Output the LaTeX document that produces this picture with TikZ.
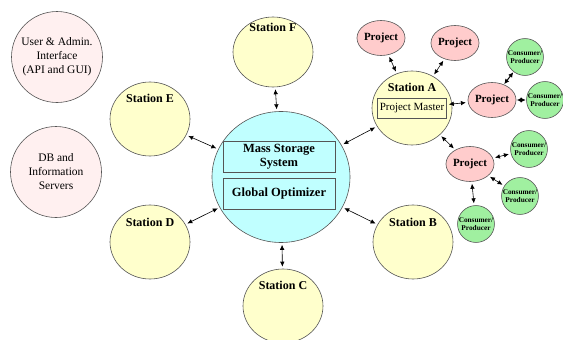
\documentclass[tikz,border=0pt]{standalone}
\usepackage{fontspec}
\setmainfont{Liberation Serif}
\usetikzlibrary{arrows.meta,shapes.geometric,calc}
\definecolor{stfill}{HTML}{FFFFCC}
\definecolor{bigfill}{HTML}{C0FFFF}
\definecolor{prfill}{HTML}{FFCCCC}
\definecolor{cpfill}{HTML}{A0F0A0}
\definecolor{infill}{HTML}{FFF0F0}
\definecolor{edge}{HTML}{555555}
\tikzset{
  station/.style={ellipse, draw=edge, line width=0.6pt, fill=stfill, minimum width=80pt, minimum height=74pt, inner sep=0pt},
  bigc/.style={ellipse, draw=edge, line width=0.6pt, fill=bigfill, minimum width=138pt, minimum height=131pt, inner sep=0pt},
  infoc/.style={circle, draw=edge, line width=0.6pt, fill=infill, minimum size=91pt, inner sep=0pt, align=center, font=\fontsize{11.5}{14}\selectfont},
  proj/.style={ellipse, draw=edge, line width=0.6pt, fill=prfill, minimum width=37pt, minimum height=35pt, inner sep=0pt, font=\fontsize{11}{12}\selectfont\bfseries},
  cp/.style={circle, draw=edge, line width=0.6pt, fill=cpfill, minimum size=36pt, inner sep=0pt, align=center, font=\fontsize{7.3}{8.5}\selectfont\bfseries},
  stlabel/.style={font=\fontsize{12}{13}\selectfont\bfseries, inner sep=0pt},
  innerbox/.style={draw=edge, line width=0.6pt, minimum width=112pt, minimum height=31pt, inner sep=0pt, align=center, font=\fontsize{12.5}{14}\selectfont\bfseries},
  pmbox/.style={draw=edge, line width=0.6pt, fill=stfill, minimum width=69pt, minimum height=20pt, inner sep=0pt, font=\fontsize{11}{12}\selectfont},
  arr/.style={{Latex[length=5pt,width=4.5pt]}-{Latex[length=5pt,width=4.5pt]}, line width=0.6pt, black, shorten >=2pt, shorten <=2pt},
  thickarr/.style={{Latex[length=5pt,width=5pt]}-{Latex[length=5pt,width=5pt]}, line width=1pt, black, shorten >=0.5pt, shorten <=0.5pt}
}
\begin{document}
\begin{tikzpicture}[x=1pt,y=-1pt]
\useasboundingbox[fill=white] (0,0) rectangle (563,340);
\begin{scope}
\clip (0,0) rectangle (563,340);
% info circles
\node[infoc] (ui) at (57,57) {User \& Admin.\\Interface\\(API and GUI)};
\node[infoc] (db) at (56,172) {DB and\\Information\\Servers};
% big circle
\node[bigc] (big) at (281,177) {};
\node[innerbox] (mss) at (279,156.5) {Mass Storage\\System};
\node[innerbox] (go) at (279,193.5) {Global Optimizer};
% stations
\node[station, minimum height=70pt] (F) at (273,52) {};
\node[stlabel] (Fl) at (273,27) {Station F};
\node[station] (E) at (150,119) {};
\node[stlabel] (El) at (150,98) {Station E};
\node[station] (D) at (150,242) {};
\node[stlabel] (Dl) at (150,222) {Station D};
\node[station] (C) at (283,306) {};
\node[stlabel] (Cl) at (283,285) {Station C};
\node[station] (B) at (413,242) {};
\node[stlabel] (Bl) at (413,222) {Station B};
\node[station] (A) at (412,108) {};
\node[stlabel] (Al) at (412,87) {Station A};
\node[pmbox] (PM) at (412,108) {Project Master};
% projects
\node[proj] (P1) at (381,38) {Project};
\node[proj] (P2) at (455,43) {Project};
\node[proj] (P3) at (492,100) {Project};
\node[proj] (P4) at (470,164) {Project};
% consumers
\node[cp] (C1) at (525,57) {Consumer/\\Producer};
\node[cp] (C2) at (545,100) {Consumer/\\Producer};
\node[cp] (C3) at (529,149) {Consumer/\\Producer};
\node[cp] (C4) at (520,196) {Consumer/\\Producer};
\node[cp] (C5) at (476,224) {Consumer/\\Producer};
% connectors
\draw[arr] (F) -- (big);
\draw[arr] (E) -- (big);
\draw[arr] (D) -- (big);
\draw[arr] (C) -- (big);
\draw[arr] (B) -- (big);
\draw[arr] (A) -- (big);
\draw[arr] (A) -- (P1);
\draw[arr] (A) -- (P2);
\draw[arr] (PM) -- (P3);
\draw[arr] (A) -- (P4);
\draw[thickarr] (P3) -- (C1);
\draw[thickarr] (P3) -- (C2);
\draw[arr] (P4) -- (C3);
\draw[arr] (P4) -- (C4);
\draw[arr] (P4) -- (C5);
\end{scope}
\end{tikzpicture}
\end{document}
